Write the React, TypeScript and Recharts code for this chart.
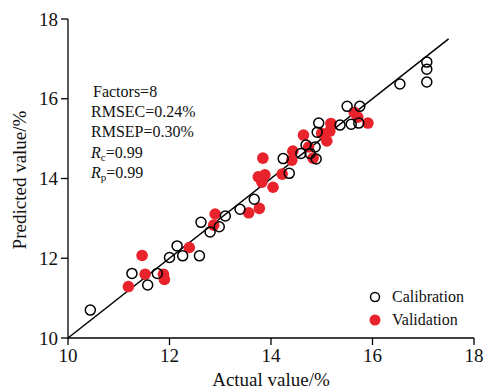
import { ScatterChart, Scatter, XAxis, YAxis, ReferenceLine } from "recharts";

// calibration set (open circles)
const calActual = [
  10.44, 11.26, 11.57, 11.76, 12.0, 12.15, 12.26, 12.59, 12.62, 12.8, 12.98,
  13.1, 13.39, 13.67, 14.36, 14.24, 14.59, 14.69, 14.77, 14.87, 14.89, 14.94,
  14.91, 15.36, 15.58, 15.73, 15.5, 15.75, 16.54, 17.07, 17.07, 17.07,
];
const calPredicted = [
  10.7, 11.62, 11.33, 11.62, 12.02, 12.31, 12.06, 12.06, 12.9, 12.66, 12.79,
  13.06, 13.23, 13.48, 14.13, 14.5, 14.63, 14.84, 14.63, 14.79, 14.49, 15.39,
  15.16, 15.34, 15.36, 15.39, 15.81, 15.81, 16.37, 16.92, 16.74, 16.42,
];

// validation set (red dots)
const valActual = [
  11.19, 11.46, 11.52, 11.88, 11.9, 12.39, 12.9, 12.87, 13.56, 13.77, 13.75,
  13.88, 13.82, 14.04, 14.22, 13.84, 14.43, 14.41, 14.64, 14.74, 14.83, 15.0,
  15.18, 15.16, 15.1, 15.64, 15.71, 15.91,
];
const valPredicted = [
  11.29, 12.07, 11.6, 11.6, 11.47, 12.27, 13.11, 12.83, 13.14, 13.25, 14.04,
  14.09, 13.91, 13.78, 14.11, 14.51, 14.69, 14.46, 15.09, 14.79, 14.51, 15.13,
  15.38, 15.19, 14.94, 15.66, 15.54, 15.39,
];

const axisTicks = [10, 12, 14, 16, 18];
const fitLine = [10, 17.5];

const statText = ["Factors=8", "RMSEC=0.24%", "RMSEP=0.30%"];
const rLines = [
  { sub: "c", value: "=0.99" },
  { sub: "p", value: "=0.99" },
];

const calData = calActual.map((x, i) => ({ x, y: calPredicted[i] }));
const valData = valActual.map((x, i) => ({ x, y: valPredicted[i] }));

const RED = "#e8232b";
const FONT = "'Liberation Serif', 'Times New Roman', serif";

const OpenDot = (p: any) => (
  <circle cx={p.cx} cy={p.cy} r={5} fill="none" stroke="#000" strokeWidth={1.5} />
);
const RedDot = (p: any) => <circle cx={p.cx} cy={p.cy} r={5.8} fill={RED} />;

export default function App() {
  const tick = { fontSize: 19, fill: "#111", fontFamily: FONT };
  return (
    <div style={{ position: "relative", width: 487, height: 390, background: "#fff" }}>
      <style>{`body{margin:0}`}</style>
      <ScatterChart
        width={487}
        height={390}
        margin={{ top: 19, right: 13, bottom: 0, left: 0 }}
      >
        <XAxis
          type="number"
          dataKey="x"
          domain={[10, 18]}
          ticks={axisTicks}
          height={52}
          tick={tick}
          tickSize={7}
          tickMargin={4}
          axisLine={{ stroke: "#000", strokeWidth: 1.3 }}
          tickLine={{ stroke: "#000", strokeWidth: 1.3 }}
        />
        <YAxis
          type="number"
          dataKey="y"
          domain={[10, 18]}
          ticks={axisTicks}
          width={68}
          tick={tick}
          tickSize={7}
          tickMargin={3}
          axisLine={{ stroke: "#000", strokeWidth: 1.3 }}
          tickLine={{ stroke: "#000", strokeWidth: 1.3 }}
        />
        <Scatter data={valData} shape={RedDot} isAnimationActive={false} />
        <Scatter data={calData} shape={OpenDot} isAnimationActive={false} />
        <ReferenceLine
          segment={[
            { x: fitLine[0], y: fitLine[0] },
            { x: fitLine[1], y: fitLine[1] },
          ]}
          stroke="#000"
          strokeWidth={1.5}
        />
      </ScatterChart>
      <svg
        width={487}
        height={390}
        style={{ position: "absolute", left: 0, top: 0, pointerEvents: "none" }}
        fontFamily={FONT}
        fill="#111"
      >
        <text x={271} y={386} fontSize={19} textAnchor="middle">
          Actual value/%
        </text>
        <text x={26} y={180} fontSize={19} textAnchor="middle" transform="rotate(-90 26 180)">
          Predicted value/%
        </text>
        {statText.map((s, i) => (
          <text key={s} x={i === 0 ? 93 : 91} y={97 + i * 20} fontSize={16}>
            {s}
          </text>
        ))}
        {rLines.map((r, i) => (
          <text key={r.sub} x={91} y={158 + i * 20} fontSize={16}>
            <tspan fontStyle="italic">R</tspan>
            <tspan fontSize={11} dy={3}>{r.sub}</tspan>
            <tspan dy={-3}>{r.value}</tspan>
          </text>
        ))}
        <circle cx={375} cy={297} r={4.5} fill="none" stroke="#000" strokeWidth={1.5} />
        <text x={392} y={302} fontSize={16}>Calibration</text>
        <circle cx={375} cy={320} r={5.5} fill={RED} />
        <text x={392} y={325} fontSize={16}>Validation</text>
      </svg>
    </div>
  );
}
